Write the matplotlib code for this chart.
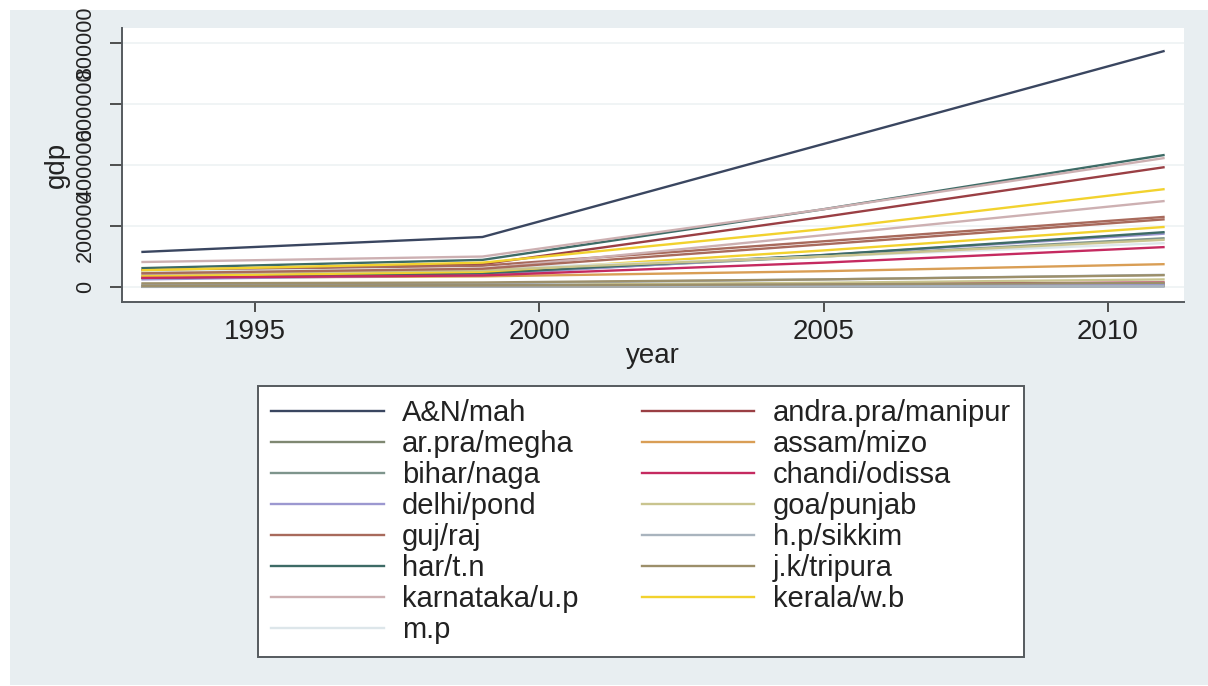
import matplotlib
matplotlib.use("Agg")
import matplotlib.pyplot as plt
from matplotlib.patches import Rectangle
from matplotlib.lines import Line2D

plt.rcParams['font.family'] = ['Liberation Sans', 'DejaVu Sans']

# *********************
# DATA (gdp, constant prices)
# *********************
years = [1993, 1999, 2005, 2011]

states = ["A&N", "andra.pra", "ar.pra", "assam", "bihar", "chandi", "delhi",
          "goa", "guj", "h.p", "har", "j.k", "karnataka", "kerala", "m.p",
          "mah", "manipur", "megha", "mizo", "naga", "odissa", "pond",
          "punjab", "raj", "sikkim", "t.n", "tripura", "u.p", "w.b"]

gdp = {
    "A&N":       [1000, 1500, 2000, 3000],
    "andra.pra": [55000, 75000, 230000, 393000],
    "ar.pra":    [2000, 2500, 3500, 5000],
    "assam":     [30000, 35000, 52000, 75000],
    "bihar":     [35000, 45000, 100000, 160000],
    "chandi":    [3000, 5000, 10000, 15000],
    "delhi":     [25000, 40000, 105000, 175000],
    "goa":       [5000, 7000, 14000, 25000],
    "guj":       [55000, 70000, 150000, 230000],
    "h.p":       [8000, 12000, 25000, 40000],
    "har":       [30000, 45000, 105000, 180000],
    "j.k":       [12000, 15000, 25000, 39000],
    "karnataka": [40000, 60000, 170000, 282000],
    "kerala":    [35000, 50000, 120000, 197000],
    "m.p":       [50000, 60000, 100000, 144000],
    "mah":       [115000, 164000, 469000, 774000],
    "manipur":   [3000, 4000, 5000, 7000],
    "megha":     [3000, 4000, 6000, 9000],
    "mizo":      [1500, 2000, 3000, 5000],
    "naga":      [3000, 4000, 6000, 8000],
    "odissa":    [30000, 38000, 80000, 131000],
    "pond":      [2000, 3000, 7000, 11000],
    "punjab":    [45000, 55000, 100000, 155000],
    "raj":       [45000, 60000, 140000, 222000],
    "sikkim":    [500, 1000, 2000, 3000],
    "t.n":       [62000, 89000, 255000, 433000],
    "tripura":   [3000, 5000, 9000, 14000],
    "u.p":       [82000, 100000, 255000, 423000],
    "w.b":       [55000, 80000, 190000, 321000],
}

legend_labels = ["A&N/mah", "andra.pra/manipur", "ar.pra/megha", "assam/mizo",
                 "bihar/naga", "chandi/odissa", "delhi/pond", "goa/punjab",
                 "guj/raj", "h.p/sikkim", "har/t.n", "j.k/tripura",
                 "karnataka/u.p", "kerala/w.b", "m.p"]

# s2color-like palette, cycles every 15 panels
palette = ["#3a4660", "#9a3f44", "#7f8872", "#d99e55", "#7e958c",
           "#c52a60", "#9c98d0", "#c9c48f", "#a86a5c", "#a9b4be",
           "#3d6b66", "#9c8f6a", "#cdb0b2", "#f2d22e", "#dde6ea"]

yticks = [0, 200000, 400000, 600000, 800000]
xticks = [1995, 2000, 2005, 2010]

BG = "#e8eef1"
W, H = 1208, 686

fig = plt.figure(figsize=(W / 100, H / 100), dpi=100, facecolor="white")
fig.patches.append(Rectangle((10 / W, 1 / H), 1 - 10 / W, 1 - 11 / H,
                             transform=fig.transFigure, facecolor=BG,
                             edgecolor="none", zorder=-10))

ax = fig.add_axes([122 / W, 1 - 302 / H, (1184 - 122) / W, (302 - 28) / H])
ax.set_facecolor("white")

for i, st in enumerate(states):
    ax.plot(years, gdp[st], color=palette[i % len(palette)], lw=1.7,
            solid_capstyle="butt", zorder=3)

ax.set_xlim(1992.66, 2011.34)
ax.set_ylim(-49000, 849000)
ax.set_xticks(xticks)
ax.set_yticks(yticks)
ax.set_yticklabels([str(v) for v in yticks], rotation=90, va="center")
ax.grid(axis="y", color="#edf2f4", lw=1.2, zorder=0)
ax.grid(axis="x", visible=False)

for s in ["top", "right"]:
    ax.spines[s].set_visible(False)
for s in ["left", "bottom"]:
    ax.spines[s].set_color("#555a5e")
    ax.spines[s].set_linewidth(1.4)

ax.tick_params(axis="x", length=7, width=1.2, color="#333333", pad=5,
               labelsize=20, labelcolor="#222222")
ax.tick_params(axis="y", length=8.5, width=1.2, color="#333333", pad=10,
               labelsize=15.5, labelcolor="#222222")

ax.set_xlabel("year", fontsize=20, color="#222222")
ax.xaxis.set_label_coords(0.5, -(356 - 302) / 274)
ax.xaxis.label.set_va("center")
ax.set_ylabel("gdp", fontsize=20, color="#222222")
ax.yaxis.set_label_coords(-(122 - 57) / 1062, 0.5)
ax.yaxis.label.set_va("center")

# legend read row by row: left column gets the even entries
handles = [Line2D([0], [0], color=palette[i], lw=1.7) for i in range(15)]
order = list(range(0, 15, 2)) + list(range(1, 15, 2))
leg = fig.legend([handles[i] for i in order], [legend_labels[i] for i in order],
                 ncol=2, loc="lower left",
                 bbox_to_anchor=(258 / W, 1 - 657 / H), bbox_transform=fig.transFigure,
                 fontsize=21, frameon=True, fancybox=False, shadow=False,
                 handlelength=3.87, handletextpad=0.62, columnspacing=2.16,
                 labelspacing=0.1, borderpad=0.45, borderaxespad=0)
frame = leg.get_frame()
frame.set_edgecolor("#555a5e")
frame.set_linewidth(1.4)
frame.set_facecolor("white")
frame.set_alpha(1)
for t in leg.get_texts():
    t.set_color("#222222")

fig.savefig("out.png", dpi=100, facecolor=fig.get_facecolor())
